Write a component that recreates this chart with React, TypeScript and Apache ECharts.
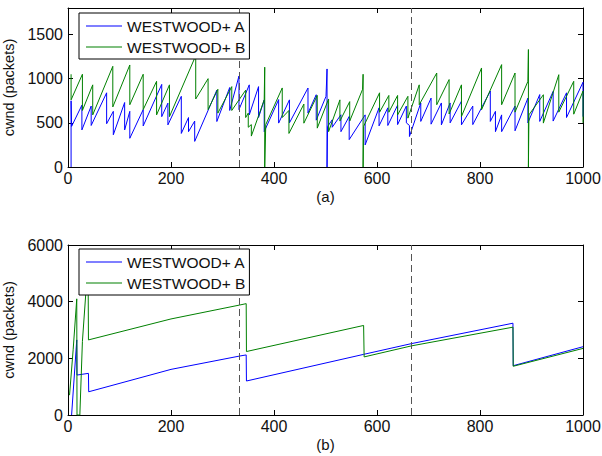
import React, { useEffect, useRef } from "react";
import * as echarts from "echarts";

const seriesNames = ["WESTWOOD+ A", "WESTWOOD+ B"];
const dividerX = [1000 / 3, 2000 / 3];

// (a) top panel: cwnd traces
const aTopA: [number, number][] = [
  [6, 0], [6, 750], [7, 460], [27, 700], [27, 420], [45, 690], [45, 470], [75, 840], [75, 490],
  [88, 630], [88, 365], [110, 730], [110, 420], [120, 630], [120, 325], [146, 650], [146, 465],
  [182, 935], [182, 570], [194, 723], [194, 477], [220, 800], [220, 380], [234, 560], [234, 400],
  [246, 520], [246, 290], [289, 870], [289, 515], [314, 900], [314, 640], [332, 1030], [332, 650],
  [352, 930], [352, 590], [370, 910], [370, 560], [381, 760], [381, 400], [409, 763], [409, 497],
  [430, 760], [430, 500], [466, 894], [466, 610], [482, 818], [482, 530], [501, 800], [503, 1110],
  [503, 0], [504, 458], [513, 534], [513, 450], [530, 591], [530, 400], [546, 572], [546, 310],
  [577, 590], [577, 250], [604, 670], [604, 466], [621, 670], [621, 470], [640, 700], [640, 480],
  [657, 690], [657, 500], [663, 470], [663, 345], [685, 725], [685, 516], [705, 780], [705, 485],
  [725, 725], [725, 477], [742, 725], [742, 500], [764, 745], [764, 477], [786, 690], [786, 480],
  [820, 860], [820, 516], [830, 630], [830, 400], [842, 590], [842, 400], [868, 690], [868, 410],
  [893, 780], [893, 500], [916, 820], [916, 516], [942, 856], [942, 520], [968, 840], [968, 560],
  [1000, 960], [1000, 570],
];
const aTopB: [number, number][] = [
  [6, 1050], [6, 760], [28, 1050], [28, 640], [48, 930], [48, 590], [87, 1140], [87, 680],
  [120, 1155], [120, 705], [146, 1050], [146, 650], [172, 970], [172, 590], [197, 930], [197, 570],
  [248, 1260], [248, 770], [272, 1000], [272, 650], [291, 880], [291, 610], [318, 910], [318, 640],
  [345, 870], [345, 560], [350, 610], [350, 450], [356, 480], [356, 350], [381, 760], [382, 1130],
  [382, 0], [384, 480], [416, 895], [416, 560], [429, 640], [429, 380], [458, 712], [458, 496],
  [484, 810], [484, 440], [506, 770], [506, 400], [528, 760], [528, 520], [547, 740], [547, 520],
  [572, 880], [573, 1050], [573, 0], [574, 460], [605, 840], [605, 620], [623, 810], [623, 620],
  [640, 810], [640, 590], [660, 800], [660, 553], [682, 930], [682, 705], [716, 1064], [716, 705],
  [740, 990], [740, 600], [764, 930], [764, 572], [803, 1121], [803, 648], [842, 1159], [842, 705],
  [868, 1064], [868, 621], [893, 970], [894, 1330], [894, 0], [895, 590], [923, 818], [923, 497],
  [953, 1045], [953, 621], [982, 970], [982, 598], [1000, 860], [1000, 500],
];

// (b) bottom panel
const bBotA: [number, number][] = [
  [7, 0], [17, 2650], [17.5, 1410], [39.7, 1470], [40.2, 820], [200, 1610], [333, 2080],
  [346, 2120], [346.5, 1200], [574, 2140], [667, 2520], [864, 3240], [864.5, 1740], [1000, 2410],
];
const bBotB: [number, number][] = [
  [3, 700], [10, 2300], [17, 4100], [17.5, 0], [23, 0], [28, 2600], [35, 4400], [39, 5200],
  [39.7, 2650], [200, 3390], [333, 3880], [346, 3930], [346.5, 2240], [574, 3160], [575, 2050],
  [667, 2440], [864, 3100], [864.5, 1720], [1000, 2350],
];

const xMax = 1000;
const xInterval = 200;
const topYMax = 1800;
const topYInterval = 500;
const botYMax = 6000;
const botYInterval = 2000;

const FONT = "'Liberation Sans', Arial, Helvetica, sans-serif";
const BLUE = "#0000ff";
const GREEN = "#008000";

export default function App() {
  const ref = useRef<HTMLDivElement>(null);
  useEffect(() => {
    const chart = echarts.init(ref.current!, null, { renderer: "svg" });
    const axisLine = { show: true, onZero: false, lineStyle: { color: "#000", width: 1 } };
    const tick = { show: true, inside: true, length: 5, lineStyle: { color: "#000", width: 1 } };
    const xAxes: any[] = [];
    const yAxes: any[] = [];
    const grids = [
      { left: 68, right: 19, top: 8, height: 159, outerBoundsMode: "none", containLabel: false },
      { left: 68, right: 19, top: 245, height: 170, outerBoundsMode: "none", containLabel: false },
    ];
    const panels = [
      { yMax: topYMax, yInt: topYInterval, name: "(a)" },
      { yMax: botYMax, yInt: botYInterval, name: "(b)" },
    ];
    panels.forEach((p, i) => {
      xAxes.push({
        type: "value", gridIndex: i, position: "bottom", min: 0, max: xMax, interval: xInterval,
        axisLine, axisTick: tick, splitLine: { show: false },
        axisLabel: { color: "#111", fontSize: 16, fontFamily: FONT, margin: 3, formatter: (v: number) => String(v) },
        name: p.name, nameLocation: "middle", nameGap: 22,
        nameTextStyle: { color: "#111", fontSize: 15, fontFamily: FONT },
      });
      xAxes.push({
        type: "value", gridIndex: i, position: "top", min: 0, max: xMax, interval: xInterval,
        axisLine, axisTick: tick, splitLine: { show: false }, axisLabel: { show: false },
      });
      yAxes.push({
        type: "value", gridIndex: i, position: "left", min: 0, max: p.yMax, interval: p.yInt,
        axisLine, axisTick: tick, splitLine: { show: false },
        axisLabel: {
          color: "#111", fontSize: 16, fontFamily: FONT, margin: 5,
          formatter: (v: number) => (v % p.yInt === 0 ? String(v) : ""),
        },
        name: "cwnd (packets)", nameLocation: "middle", nameGap: 41,
        nameTextStyle: { color: "#111", fontSize: 14.5, fontFamily: FONT },
      });
      yAxes.push({
        type: "value", gridIndex: i, position: "right", min: 0, max: p.yMax, interval: p.yInt,
        axisLine, axisTick: tick, splitLine: { show: false }, axisLabel: { show: false },
      });
    });
    const lineSeries = (name: string, color: string, data: [number, number][], i: number, mark: boolean) => ({
      type: "line", name, xAxisIndex: i * 2, yAxisIndex: i * 2, data, z: 2,
      symbol: "none", showSymbol: false, clip: true,
      lineStyle: { color, width: 1 }, itemStyle: { color },
      markLine: mark
        ? {
            silent: true, symbol: ["none", "none"], label: { show: false },
            lineStyle: { type: [7, 4], color: "#555", width: 1 },
            data: dividerX.map((v) => ({ xAxis: v })),
          }
        : undefined,
    });
    const legendBase = {
      data: seriesNames, orient: "vertical", left: 79, itemWidth: 36, itemHeight: 14, itemGap: 5,
      icon: "path://M0,0H36V1.1H0Z", symbolKeepAspect: true, z: 20, zlevel: 0,
      padding: [5, 4, 4, 7], borderColor: "#000", borderWidth: 1, borderRadius: 0,
      backgroundColor: "#fff", selectedMode: false,
      textStyle: { fontSize: 15.5, color: "#111", fontFamily: FONT },
    };
    chart.setOption({
      animation: false,
      backgroundColor: "#fff",
      grid: grids,
      xAxis: xAxes,
      yAxis: yAxes,
      legend: [
        { ...legendBase, top: 13 },
        { ...legendBase, top: 249 },
      ],
      series: [
        lineSeries(seriesNames[0], BLUE, aTopA, 0, true),
        lineSeries(seriesNames[1], GREEN, aTopB, 0, false),
        lineSeries(seriesNames[0], BLUE, bBotA, 1, true),
        lineSeries(seriesNames[1], GREEN, bBotB, 1, false),
      ],
    });
    return () => chart.dispose();
  }, []);
  return (
    <div
      ref={ref}
      style={{ position: "fixed", left: 0, top: 0, width: 602, height: 456, background: "#fff" }}
    />
  );
}
